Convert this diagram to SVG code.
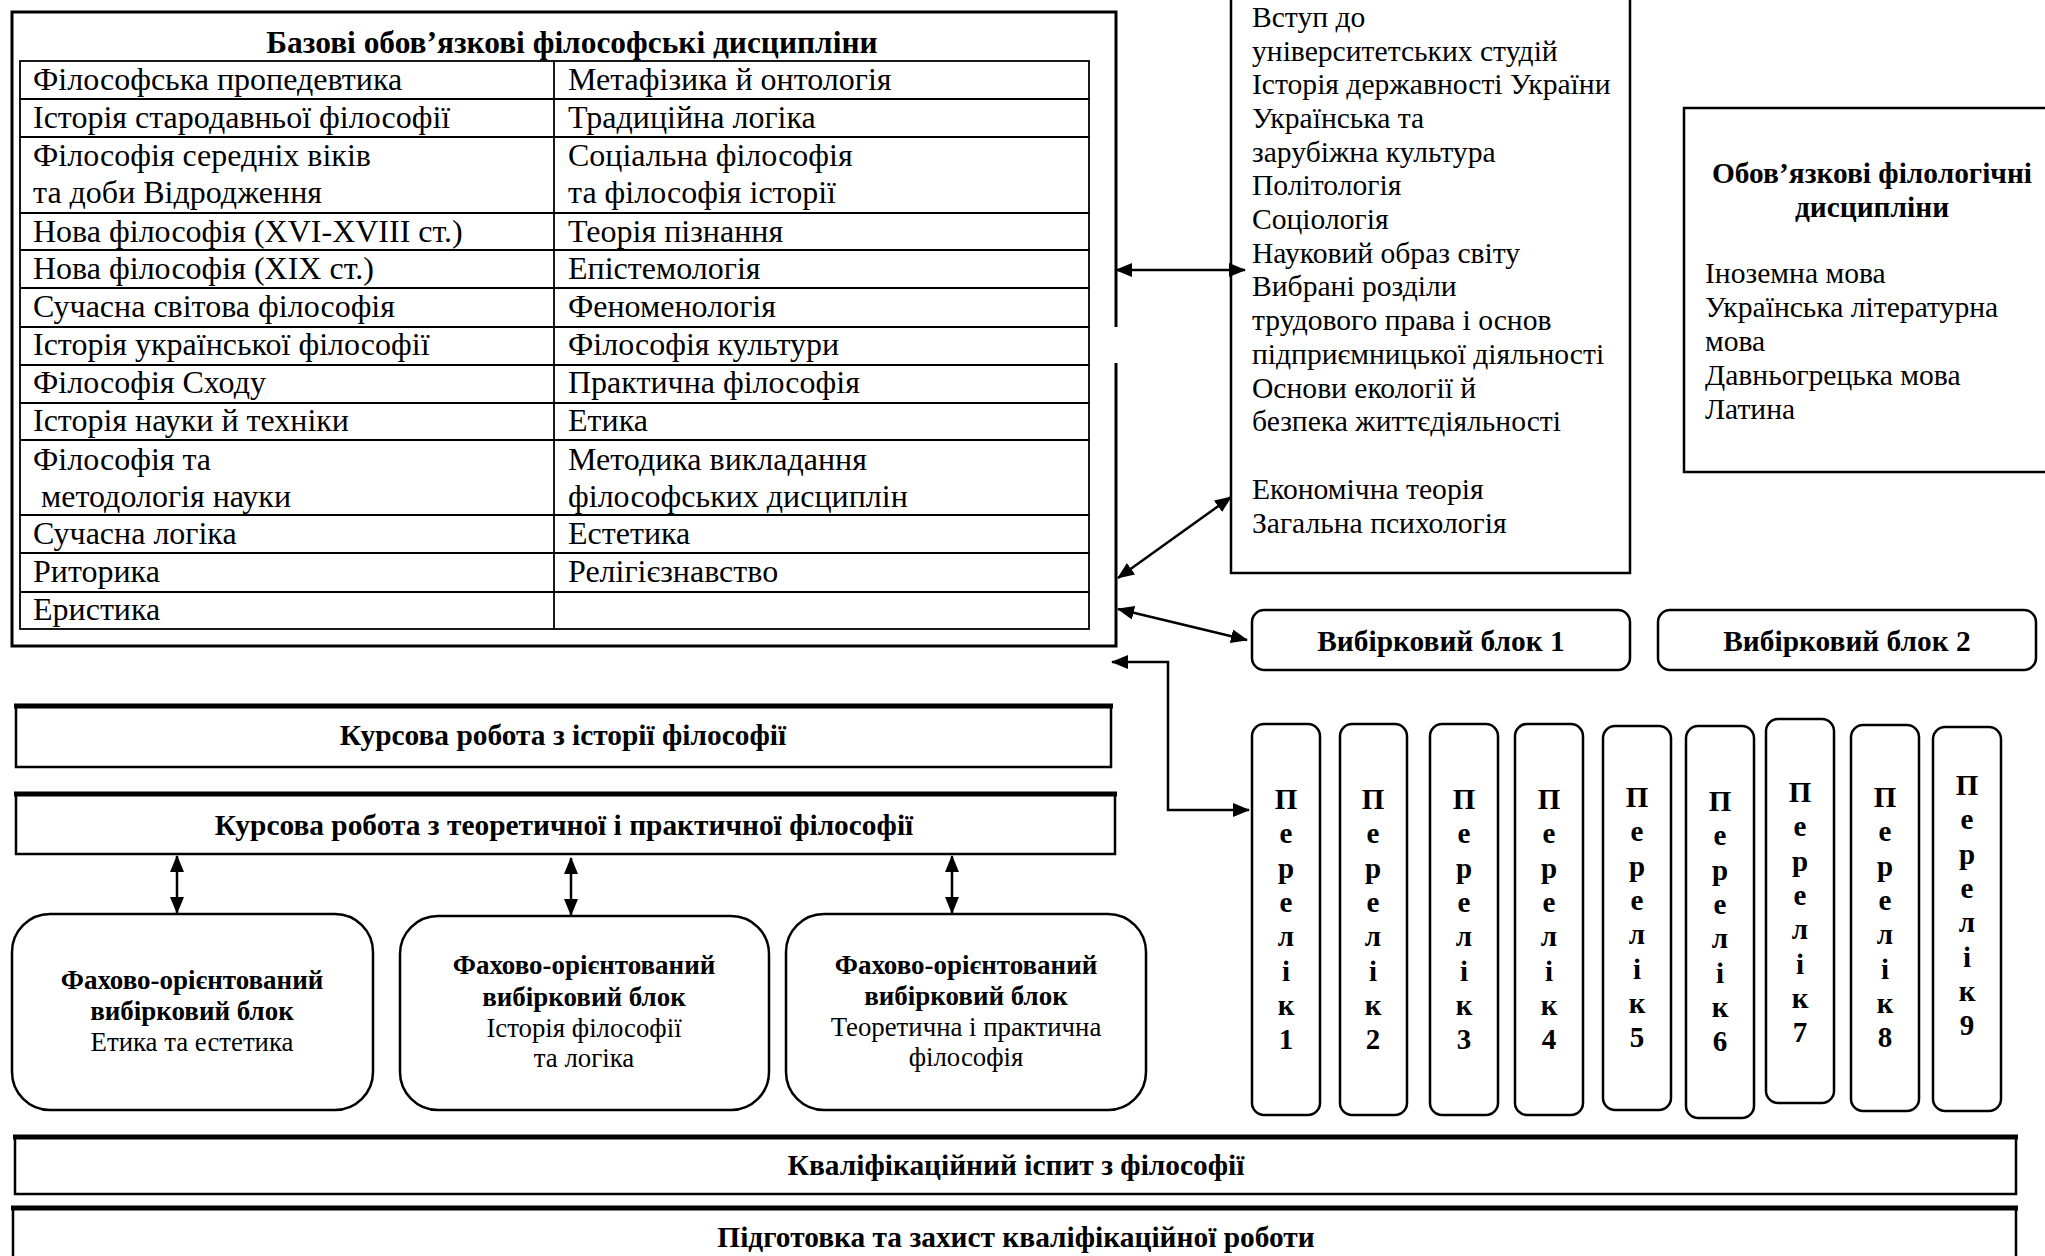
<svg xmlns="http://www.w3.org/2000/svg" width="2045" height="1256" viewBox="0 0 2045 1256">
<style>
  text { font-family: "Liberation Serif", "Times New Roman", serif; fill: #000; }
  .t { font-size: 32px; }
  .g { font-size: 29.6px; }
  .b { font-size: 31.4px; font-weight: bold; }
  .bs { font-size: 29.4px; font-weight: bold; }
  .bf { font-size: 27px; font-weight: bold; }
  .p { font-size: 29px; font-weight: bold; }
  .s { font-size: 26.8px; }
  .c { text-anchor: middle; }
  .box { fill: #fff; stroke: #000; stroke-width: 2.5; }
  .thin { fill: none; stroke: #000; stroke-width: 1.8; }
  .top { stroke: #000; stroke-width: 5; }
  .conn { fill: none; stroke: #000; stroke-width: 2.5; marker-start: url(#ah); marker-end: url(#ah); }
</style>
<defs>
  <marker id="ah" markerUnits="userSpaceOnUse" markerWidth="17" markerHeight="14" viewBox="0 0 17 14" refX="16" refY="7" orient="auto-start-reverse">
    <path d="M0,0 L17,7 L0,14 z" fill="#000"/>
  </marker>
</defs>
<rect width="2045" height="1256" fill="#fff"/>

<g id="base-disciplines">
  <path d="M1116,327 V12 H12 V646 H1116 V363" fill="none" stroke="#000" stroke-width="3"/>
  <text class="b c" x="572" y="53">Базові обов’язкові філософські дисципліни</text>
  <rect class="thin" x="20" y="61" width="1069" height="568"/>
  <line class="thin" x1="554" y1="61" x2="554" y2="629"/>
  <path class="thin" d="M20,99 H1089 M20,137 H1089 M20,213 H1089 M20,250 H1089 M20,288 H1089 M20,327 H1089 M20,365 H1089 M20,403 H1089 M20,440 H1089 M20,515 H1089 M20,553 H1089 M20,592 H1089"/>
  <g class="t">
    <text x="33" y="90">Філософська пропедевтика</text>
    <text x="33" y="128">Історія стародавньої філософії</text>
    <text x="33" y="166">Філософія середніх віків</text>
    <text x="33" y="203">та доби Відродження</text>
    <text x="33" y="242">Нова філософія (XVI-XVIII ст.)</text>
    <text x="33" y="279">Нова філософія (XIX ст.)</text>
    <text x="33" y="317">Сучасна світова філософія</text>
    <text x="33" y="355">Історія української філософії</text>
    <text x="33" y="393">Філософія Сходу</text>
    <text x="33" y="431">Історія науки й техніки</text>
    <text x="33" y="470">Філософія та</text>
    <text x="41" y="507">методологія науки</text>
    <text x="33" y="544">Сучасна логіка</text>
    <text x="33" y="582">Риторика</text>
    <text x="33" y="620">Еристика</text>
    <text x="568" y="90">Метафізика й онтологія</text>
    <text x="568" y="128">Традиційна логіка</text>
    <text x="568" y="166">Соціальна філософія</text>
    <text x="568" y="203">та філософія історії</text>
    <text x="568" y="242">Теорія пізнання</text>
    <text x="568" y="279">Епістемологія</text>
    <text x="568" y="317">Феноменологія</text>
    <text x="568" y="355">Філософія культури</text>
    <text x="568" y="393">Практична філософія</text>
    <text x="568" y="431">Етика</text>
    <text x="568" y="470">Методика викладання</text>
    <text x="568" y="507">філософських дисциплін</text>
    <text x="568" y="544">Естетика</text>
    <text x="568" y="582">Релігієзнавство</text>
  </g>
</g>

<g id="general-disciplines">
  <rect class="box" x="1231" y="-5" width="399" height="578"/>
  <g class="g">
    <text x="1252" y="27">Вступ до</text>
    <text x="1252" y="61">університетських студій</text>
    <text x="1252" y="94">Історія державності України</text>
    <text x="1252" y="128">Українська та</text>
    <text x="1252" y="162">зарубіжна культура</text>
    <text x="1252" y="195">Політологія</text>
    <text x="1252" y="229">Соціологія</text>
    <text x="1252" y="263">Науковий образ світу</text>
    <text x="1252" y="296">Вибрані розділи</text>
    <text x="1252" y="330">трудового права і основ</text>
    <text x="1252" y="364">підприємницької діяльності</text>
    <text x="1252" y="398">Основи екології й</text>
    <text x="1252" y="431">безпека життєдіяльності</text>
    <text x="1252" y="499">Економічна теорія</text>
    <text x="1252" y="533">Загальна психологія</text>
  </g>
</g>

<g id="philology">
  <rect class="box" x="1684" y="108" width="400" height="364"/>
  <text class="bs c" x="1872" y="183">Обов’язкові філологічні</text>
  <text class="bs c" x="1872" y="217">дисципліни</text>
  <g class="g">
    <text x="1705" y="283">Іноземна мова</text>
    <text x="1705" y="317">Українська літературна</text>
    <text x="1705" y="351">мова</text>
    <text x="1705" y="385">Давньогрецька мова</text>
    <text x="1705" y="419">Латина</text>
  </g>
</g>

<g id="elective-1">
  <rect class="box" x="1252" y="610" width="378" height="60" rx="12"/>
  <text class="bs c" x="1441" y="651">Вибірковий блок 1</text>
</g>
<g id="elective-2">
  <rect class="box" x="1658" y="610" width="378" height="60" rx="12"/>
  <text class="bs c" x="1847" y="651">Вибірковий блок 2</text>
</g>

<g id="lists" class="p">
  <g id="list-1"><rect class="box" x="1252" y="724" width="68" height="391" rx="12"/>
    <text class="c" x="1286" y="809"><tspan x="1286">П</tspan><tspan x="1286" dy="34.3">е</tspan><tspan x="1286" dy="34.3">р</tspan><tspan x="1286" dy="34.3">е</tspan><tspan x="1286" dy="34.3">л</tspan><tspan x="1286" dy="34.3">і</tspan><tspan x="1286" dy="34.3">к</tspan><tspan x="1286" dy="34.3">1</tspan></text></g>
  <g id="list-2"><rect class="box" x="1340" y="724" width="67" height="391" rx="12"/>
    <text class="c" x="1373" y="809"><tspan x="1373">П</tspan><tspan x="1373" dy="34.3">е</tspan><tspan x="1373" dy="34.3">р</tspan><tspan x="1373" dy="34.3">е</tspan><tspan x="1373" dy="34.3">л</tspan><tspan x="1373" dy="34.3">і</tspan><tspan x="1373" dy="34.3">к</tspan><tspan x="1373" dy="34.3">2</tspan></text></g>
  <g id="list-3"><rect class="box" x="1430" y="724" width="68" height="391" rx="12"/>
    <text class="c" x="1464" y="809"><tspan x="1464">П</tspan><tspan x="1464" dy="34.3">е</tspan><tspan x="1464" dy="34.3">р</tspan><tspan x="1464" dy="34.3">е</tspan><tspan x="1464" dy="34.3">л</tspan><tspan x="1464" dy="34.3">і</tspan><tspan x="1464" dy="34.3">к</tspan><tspan x="1464" dy="34.3">3</tspan></text></g>
  <g id="list-4"><rect class="box" x="1515" y="724" width="68" height="391" rx="12"/>
    <text class="c" x="1549" y="809"><tspan x="1549">П</tspan><tspan x="1549" dy="34.3">е</tspan><tspan x="1549" dy="34.3">р</tspan><tspan x="1549" dy="34.3">е</tspan><tspan x="1549" dy="34.3">л</tspan><tspan x="1549" dy="34.3">і</tspan><tspan x="1549" dy="34.3">к</tspan><tspan x="1549" dy="34.3">4</tspan></text></g>
  <g id="list-5"><rect class="box" x="1603" y="726" width="68" height="384" rx="12"/>
    <text class="c" x="1637" y="807"><tspan x="1637">П</tspan><tspan x="1637" dy="34.3">е</tspan><tspan x="1637" dy="34.3">р</tspan><tspan x="1637" dy="34.3">е</tspan><tspan x="1637" dy="34.3">л</tspan><tspan x="1637" dy="34.3">і</tspan><tspan x="1637" dy="34.3">к</tspan><tspan x="1637" dy="34.3">5</tspan></text></g>
  <g id="list-6"><rect class="box" x="1686" y="726" width="68" height="392" rx="12"/>
    <text class="c" x="1720" y="811"><tspan x="1720">П</tspan><tspan x="1720" dy="34.3">е</tspan><tspan x="1720" dy="34.3">р</tspan><tspan x="1720" dy="34.3">е</tspan><tspan x="1720" dy="34.3">л</tspan><tspan x="1720" dy="34.3">і</tspan><tspan x="1720" dy="34.3">к</tspan><tspan x="1720" dy="34.3">6</tspan></text></g>
  <g id="list-7"><rect class="box" x="1766" y="719" width="68" height="384" rx="12"/>
    <text class="c" x="1800" y="802"><tspan x="1800">П</tspan><tspan x="1800" dy="34.3">е</tspan><tspan x="1800" dy="34.3">р</tspan><tspan x="1800" dy="34.3">е</tspan><tspan x="1800" dy="34.3">л</tspan><tspan x="1800" dy="34.3">і</tspan><tspan x="1800" dy="34.3">к</tspan><tspan x="1800" dy="34.3">7</tspan></text></g>
  <g id="list-8"><rect class="box" x="1851" y="725" width="68" height="386" rx="12"/>
    <text class="c" x="1885" y="807"><tspan x="1885">П</tspan><tspan x="1885" dy="34.3">е</tspan><tspan x="1885" dy="34.3">р</tspan><tspan x="1885" dy="34.3">е</tspan><tspan x="1885" dy="34.3">л</tspan><tspan x="1885" dy="34.3">і</tspan><tspan x="1885" dy="34.3">к</tspan><tspan x="1885" dy="34.3">8</tspan></text></g>
  <g id="list-9"><rect class="box" x="1933" y="727" width="68" height="384" rx="12"/>
    <text class="c" x="1967" y="795"><tspan x="1967">П</tspan><tspan x="1967" dy="34.3">е</tspan><tspan x="1967" dy="34.3">р</tspan><tspan x="1967" dy="34.3">е</tspan><tspan x="1967" dy="34.3">л</tspan><tspan x="1967" dy="34.3">і</tspan><tspan x="1967" dy="34.3">к</tspan><tspan x="1967" dy="34.3">9</tspan></text></g>
</g>

<g id="coursework-history">
  <rect class="box" x="16" y="706" width="1095" height="61"/>
  <line class="top" x1="14" y1="706" x2="1113" y2="706"/>
  <text class="bs c" x="563" y="745">Курсова робота з історії філософії</text>
</g>
<g id="coursework-theory">
  <rect class="box" x="16" y="794" width="1099" height="60"/>
  <line class="top" x1="14" y1="794" x2="1117" y2="794"/>
  <text class="bs c" x="564" y="835">Курсова робота з теоретичної і практичної філософії</text>
</g>

<g id="block-ethics">
  <rect class="box" x="12" y="914" width="361" height="196" rx="38"/>
  <text class="bf c" x="192" y="989">Фахово-орієнтований</text>
  <text class="bf c" x="192" y="1020">вибірковий блок</text>
  <text class="s c" x="192" y="1051">Етика та естетика</text>
</g>
<g id="block-history">
  <rect class="box" x="400" y="916" width="369" height="194" rx="38"/>
  <text class="bf c" x="584" y="974">Фахово-орієнтований</text>
  <text class="bf c" x="584" y="1006">вибірковий блок</text>
  <text class="s c" x="584" y="1037">Історія філософії</text>
  <text class="s c" x="584" y="1067">та логіка</text>
</g>
<g id="block-theory">
  <rect class="box" x="786" y="914" width="360" height="196" rx="38"/>
  <text class="bf c" x="966" y="974">Фахово-орієнтований</text>
  <text class="bf c" x="966" y="1005">вибірковий блок</text>
  <text class="s c" x="966" y="1036">Теоретична і практична</text>
  <text class="s c" x="966" y="1066">філософія</text>
</g>

<g id="qualification-exam">
  <rect class="box" x="15" y="1137" width="2001" height="57"/>
  <line class="top" x1="13" y1="1137" x2="2018" y2="1137"/>
  <text class="bs c" x="1016" y="1175">Кваліфікаційний іспит з філософії</text>
</g>
<g id="qualification-work">
  <rect class="box" x="13" y="1208" width="2003" height="70"/>
  <line class="top" x1="11" y1="1208" x2="2018" y2="1208"/>
  <text class="bs c" x="1016" y="1247">Підготовка та захист кваліфікаційної роботи</text>
</g>

<g id="connectors">
  <line class="conn" x1="1116" y1="270" x2="1245" y2="270"/>
  <line class="conn" x1="1118" y1="578" x2="1231" y2="497"/>
  <line class="conn" x1="1118" y1="609" x2="1247" y2="640"/>
  <path class="conn" d="M1112,662 H1168 V810 H1249"/>
  <line class="conn" x1="177" y1="856" x2="177" y2="913"/>
  <line class="conn" x1="571" y1="858" x2="571" y2="915"/>
  <line class="conn" x1="952" y1="856" x2="952" y2="913"/>
</g>
</svg>
